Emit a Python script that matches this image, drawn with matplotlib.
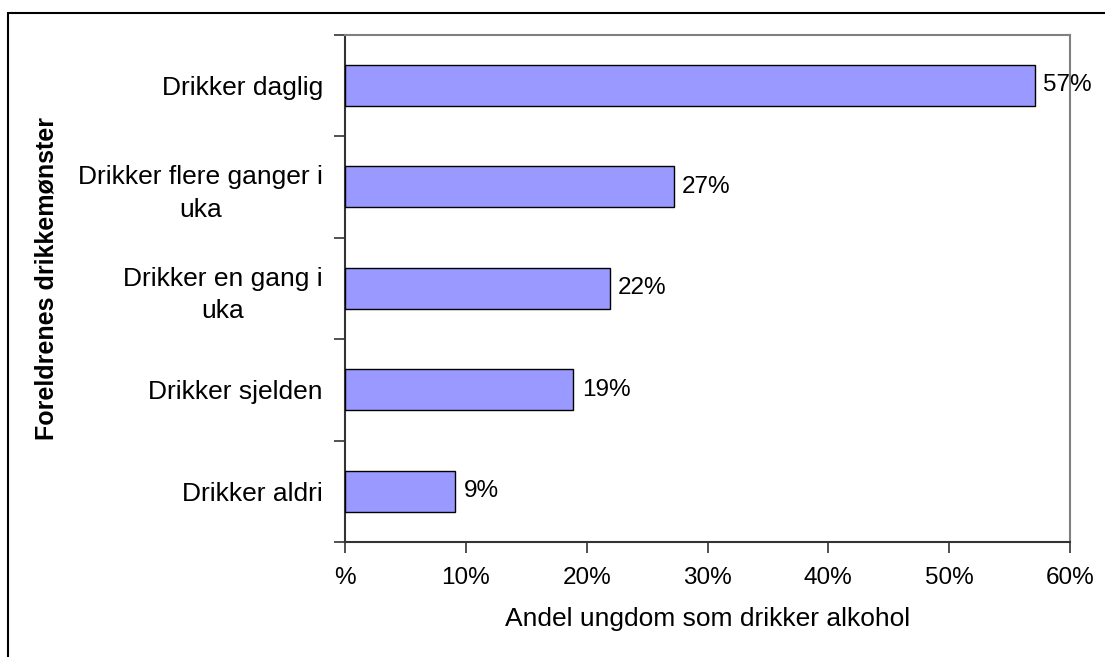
import matplotlib
matplotlib.use("Agg")
import matplotlib.pyplot as plt
import matplotlib.patches as mpatches
import numpy as np

categories = ["Drikker daglig", "Drikker flere ganger i\nuka", "Drikker en gang i\nuka",
              "Drikker sjelden", "Drikker aldri"]
values = [57.1, 27.2, 21.9, 18.9, 9.1]
value_labels = ["57%", "27%", "22%", "19%", "9%"]
xticks = [0, 10, 20, 30, 40, 50, 60]
xtick_labels = ["%", "10%", "20%", "30%", "40%", "50%", "60%"]

plt.rcParams["font.family"] = ["Liberation Sans", "DejaVu Sans"]

W, H = 1105, 657
fig = plt.figure(figsize=(W / 100, H / 100), dpi=100)
fig.patch.set_facecolor("white")

# outer frame of the chart area (runs off the right and bottom edges)
fig.patches.append(mpatches.Rectangle((8 / W, -0.2), 1.2, 1.2 - 13 / H,
                                      transform=fig.transFigure, fill=False,
                                      edgecolor="black", linewidth=1.5))

ax = fig.add_axes([345 / W, 1 - 542 / H, (1070 - 345) / W, (542 - 34.5) / H])

y = np.arange(len(categories))
ax.barh(y, values, height=0.40, color="#9999FF", edgecolor="black", linewidth=1.0, zorder=3)
for yi, v, lab in zip(y, values, value_labels):
    ax.text(v + 0.7, yi, lab, va="center", ha="left", fontsize=17.5, clip_on=False)

ax.set_xlim(0, 60)
ax.set_ylim(len(categories) - 0.5, -0.5)

ax.set_xticks(xticks)
ax.set_xticklabels(xtick_labels, fontsize=17.5)
ax.tick_params(axis="x", direction="out", length=8, width=1.2, color="#333333", pad=10)

ax.set_yticks(y)
ax.set_yticklabels(categories, fontsize=19)
for t in ax.get_yticklabels():
    t.set_multialignment("center")
    t.set_linespacing(1.45)
ax.tick_params(axis="y", which="major", length=0, pad=16)
ax.set_yticks(np.arange(len(categories) + 1) - 0.5, minor=True)
ax.tick_params(axis="y", which="minor", direction="out", length=8, width=1.2, color="#333333")

ax.set_xlabel("Andel ungdom som drikker alkohol", fontsize=19, labelpad=13)
fig.text(47 / W, 1 - 278.5 / H, "Foreldrenes drikkemønster", fontsize=18,
         fontweight="bold", rotation=90, ha="center", va="center")

for side in ["left", "bottom"]:
    ax.spines[side].set_color("#333333")
    ax.spines[side].set_linewidth(1.5)
for side in ["top", "right"]:
    ax.spines[side].set_color("#808080")
    ax.spines[side].set_linewidth(1.5)

fig.savefig("out.png", dpi=100, facecolor="white")
